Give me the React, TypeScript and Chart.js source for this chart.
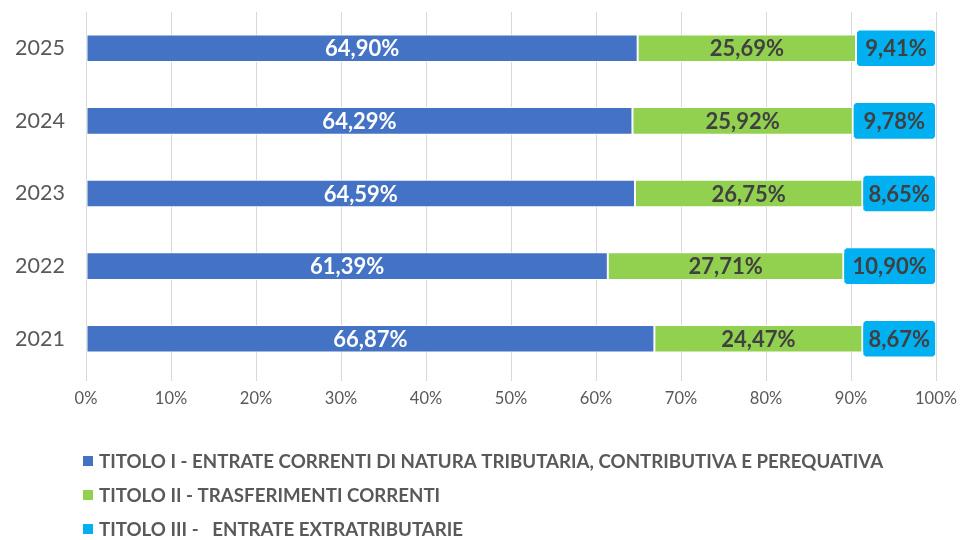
import React, { useEffect, useRef } from "react";
import { Chart, registerables } from "chart.js";

Chart.register(...registerables);

const years = ["2025", "2024", "2023", "2022", "2021"];
const titolo1 = [64.9, 64.29, 64.59, 61.39, 66.87];
const titolo2 = [25.69, 25.92, 26.75, 27.71, 24.47];
const titolo3 = [9.41, 9.78, 8.65, 10.9, 8.67];
const seriesNames = [
  "TITOLO I - ENTRATE CORRENTI DI NATURA TRIBUTARIA, CONTRIBUTIVA E PEREQUATIVA",
  "TITOLO II - TRASFERIMENTI CORRENTI",
  "TITOLO III -   ENTRATE EXTRATRIBUTARIE",
];
const colors = ["#4472C4", "#92D050", "#00B0F0"];
const labelColors = ["#FFFFFF", "#404040", "#404040"];
const xTicks = [0, 10, 20, 30, 40, 50, 60, 70, 80, 90, 100];

const FONT = "Lato, 'Open Sans', sans-serif";

const fmt = (v: number) => v.toFixed(2).replace(".", ",") + "%";

const labelPlugin = {
  id: "labels",
  afterDatasetsDraw(chart: any) {
    const ctx = chart.ctx;
    ctx.save();
    chart.data.datasets.forEach((ds: any, di: number) => {
      const meta = chart.getDatasetMeta(di);
      meta.data.forEach((el: any, i: number) => {
        const left = Math.min(el.base, el.x);
        const right = Math.max(el.base, el.x);
        const h = el.height;
        const cx = (left + right) / 2;
        const cy = el.y;
        if (di === 2) {
          const top = cy - h / 2 - 4;
          const bot = cy + h / 2 + 4;
          const l = left + 1;
          const r = right - 1;
          const c = 2;
          ctx.beginPath();
          ctx.moveTo(l + c, top);
          ctx.lineTo(r - c, top);
          ctx.lineTo(r, top + c);
          ctx.lineTo(r, bot - c);
          ctx.lineTo(r - c, bot);
          ctx.lineTo(l + c, bot);
          ctx.lineTo(l, bot - c);
          ctx.lineTo(l, top + c);
          ctx.closePath();
          ctx.fillStyle = colors[2];
          ctx.fill();
        }
        ctx.fillStyle = labelColors[di];
        ctx.font = `bold 22px ${FONT}`;
        ctx.textAlign = "center";
        ctx.textBaseline = "middle";
        ctx.fillText(fmt(ds.data[i]), cx, cy + 1);
      });
    });
    ctx.restore();
  },
  afterDraw(chart: any) {
    const ctx = chart.ctx;
    ctx.save();
    const ys = [461, 495, 529];
    seriesNames.forEach((name, i) => {
      ctx.fillStyle = colors[i];
      ctx.fillRect(83, ys[i] - 5, 10, 10);
      ctx.fillStyle = "#595959";
      ctx.font = `bold 18.7px ${FONT}`;
      ctx.textAlign = "left";
      ctx.textBaseline = "middle";
      ctx.fillText(name, 99, ys[i] + 1);
    });
    ctx.restore();
  },
};

export default function App() {
  const ref = useRef<HTMLCanvasElement | null>(null);
  useEffect(() => {
    document.body.style.margin = "0";
    const canvas = ref.current!;
    const chart = new Chart(canvas, {
      type: "bar",
      data: {
        labels: years,
        datasets: [titolo1, titolo2, titolo3].map((d, i) => ({
          label: seriesNames[i],
          data: d,
          backgroundColor: colors[i],
          borderColor: "#FFFFFF",
          borderWidth: 1,
          borderSkipped: false,
          categoryPercentage: 1,
          barPercentage: 0.38,
        })),
      },
      options: {
        indexAxis: "y",
        animation: false,
        responsive: false,
        maintainAspectRatio: false,
        layout: { padding: { top: 12, right: 24, bottom: 0, left: 0 } },
        plugins: {
          legend: { display: false },
          tooltip: { enabled: false },
        },
        scales: {
          x: {
            stacked: true,
            min: 0,
            max: 100,
            afterBuildTicks: (axis: any) => {
              axis.ticks = xTicks.map((v) => ({ value: v }));
            },
            afterFit: (axis: any) => {
              axis.height = 540 - 375;
              axis.paddingRight = 0;
              axis.paddingLeft = 0;
            },
            ticks: {
              callback: (v: any) => `${v}%`,
              color: "#595959",
              font: { family: FONT, size: 16.5 },
              padding: 8,
            },
            grid: {
              color: "#D9D9D9",
              lineWidth: 1,
              tickLength: 6,
              drawTicks: true,
            },
            border: { display: false },
          },
          y: {
            stacked: true,
            afterFit: (axis: any) => {
              axis.width = 86;
              axis.paddingTop = 0;
              axis.paddingBottom = 0;
            },
            ticks: {
              color: "#595959",
              font: { family: FONT, size: 21.5 },
              padding: 13,
            },
            grid: { display: false },
            border: { display: false },
          },
        },
      },
      plugins: [labelPlugin],
    });
    return () => chart.destroy();
  }, []);
  return (
    <div style={{ width: 960, height: 540, background: "#fff" }}>
      <canvas ref={ref} width={960} height={540} style={{ display: "block" }} />
    </div>
  );
}
